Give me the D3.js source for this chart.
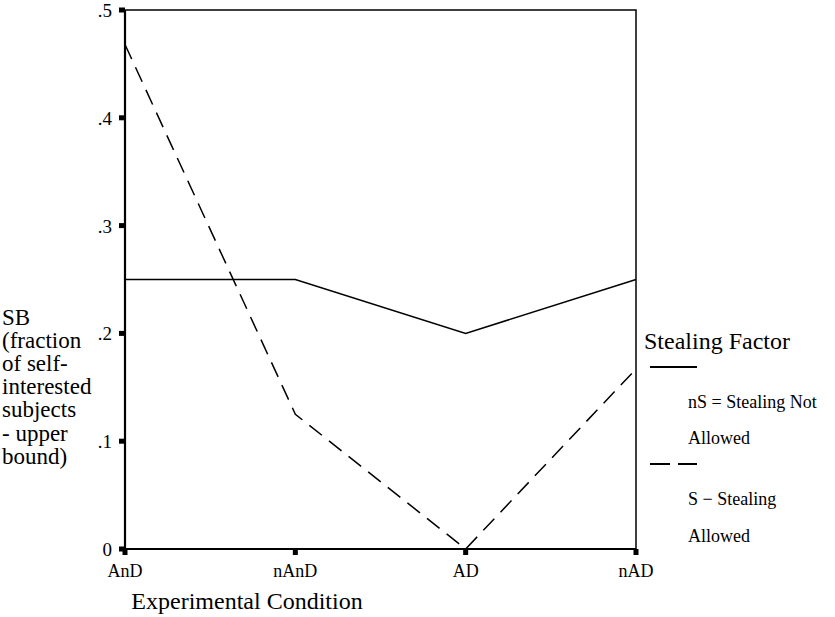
<!DOCTYPE html>
<html>
<head>
<meta charset="utf-8">
<script src="https://cdn.jsdelivr.net/npm/d3@7"></script>
<style>
  body { margin: 0; background: #fff; }
</style>
</head>
<body>
<svg width="835" height="617"></svg>
<script>
// chart data
const conditions = ['AnD', 'nAnD', 'AD', 'nAD'];
const notStealing = [0.25, 0.25, 0.2, 0.25];
const stealing = [0.468, 0.125, 0.0, 0.167];
const yTicks = [0, 0.1, 0.2, 0.3, 0.4, 0.5];
const yTickLabels = ['0', '.1', '.2', '.3', '.4', '.5'];
const yTitle = ['SB', '(fraction', 'of self-', 'interested', 'subjects', '- upper', 'bound)'];

const serif = '"Liberation Serif"';
const svg = d3.select('svg').style('font-family', serif);
const margin = {top: 10, left: 125, right: 199, bottom: 68};
const w = 835 - margin.left - margin.right;
const h = 617 - margin.top - margin.bottom;

const x = d3.scalePoint().domain(conditions).range([0, w]);
const y = d3.scaleLinear().domain([0, 0.5]).range([h, 0]);

const g = svg.append('g').attr('transform', `translate(${margin.left},${margin.top})`);

// helper so every label gets the serif face
const label = (sel) => sel.style('font-family', serif).attr('fill', '#000');

// frame
g.append('rect')
  .attr('x', 0).attr('y', 0).attr('width', w).attr('height', h)
  .attr('fill', 'none').attr('stroke', '#000').attr('stroke-width', 1.5);
// heavier left and bottom axes
g.append('line').attr('x1', 0).attr('x2', 0).attr('y1', 0).attr('y2', h)
  .attr('stroke', '#000').attr('stroke-width', 2.2);
g.append('line').attr('x1', 0).attr('x2', w).attr('y1', h).attr('y2', h)
  .attr('stroke', '#000').attr('stroke-width', 2.2);

// y ticks: little squares left of the axis
g.selectAll('.ytick').data(yTicks).enter().append('rect')
  .attr('x', -6).attr('y', d => y(d) - 2.5).attr('width', 6).attr('height', 5)
  .attr('fill', '#000');
g.selectAll('.ylab').data(yTicks).enter().append('text')
  .attr('x', -13).attr('y', d => y(d) + 7)
  .attr('text-anchor', 'end').attr('font-size', 19)
  .call(label)
  .text((d, i) => yTickLabels[i]);

// x ticks: squares below the axis
g.selectAll('.xtick').data(conditions).enter().append('rect')
  .attr('x', d => x(d) - 2.5).attr('y', h).attr('width', 5).attr('height', 6)
  .attr('fill', '#000');
g.selectAll('.xlab').data(conditions).enter().append('text')
  .attr('x', d => x(d)).attr('y', h + 28)
  .attr('text-anchor', 'middle').attr('font-size', 18)
  .call(label)
  .text(d => d);

// lines
const line = d3.line().x((d, i) => x(conditions[i])).y(d => y(d));
g.append('path').datum(notStealing).attr('d', line)
  .attr('fill', 'none').attr('stroke', '#000').attr('stroke-width', 1.5);
g.append('path').datum(stealing).attr('d', line)
  .attr('fill', 'none').attr('stroke', '#000').attr('stroke-width', 1.5)
  .attr('stroke-dasharray', '16,9');

// axis titles
svg.append('text').attr('x', 247).attr('y', 609)
  .attr('text-anchor', 'middle').attr('font-size', 24)
  .call(label)
  .text('Experimental Condition');

svg.append('g').selectAll('text').data(yTitle).enter().append('text')
  .attr('x', 2).attr('y', (d, i) => 325 + i * 23.1)
  .attr('font-size', 23)
  .call(label)
  .text(d => d);

// legend
const lg = svg.append('g');
lg.append('text').attr('x', 644).attr('y', 349).attr('font-size', 24).call(label).text('Stealing Factor');
lg.append('line').attr('x1', 650).attr('x2', 697).attr('y1', 367).attr('y2', 367)
  .attr('stroke', '#000').attr('stroke-width', 2);
lg.append('text').attr('x', 688).attr('y', 408).attr('font-size', 18).call(label).text('nS = Stealing Not');
lg.append('text').attr('x', 688).attr('y', 444).attr('font-size', 18).call(label).text('Allowed');
lg.append('line').attr('x1', 650).attr('x2', 697).attr('y1', 464).attr('y2', 464)
  .attr('stroke', '#000').attr('stroke-width', 2).attr('stroke-dasharray', '20,8');
lg.append('text').attr('x', 688).attr('y', 505).attr('font-size', 18).call(label).text('S \u2212 Stealing');
lg.append('text').attr('x', 688).attr('y', 542).attr('font-size', 18).call(label).text('Allowed');
</script>
</body>
</html>
